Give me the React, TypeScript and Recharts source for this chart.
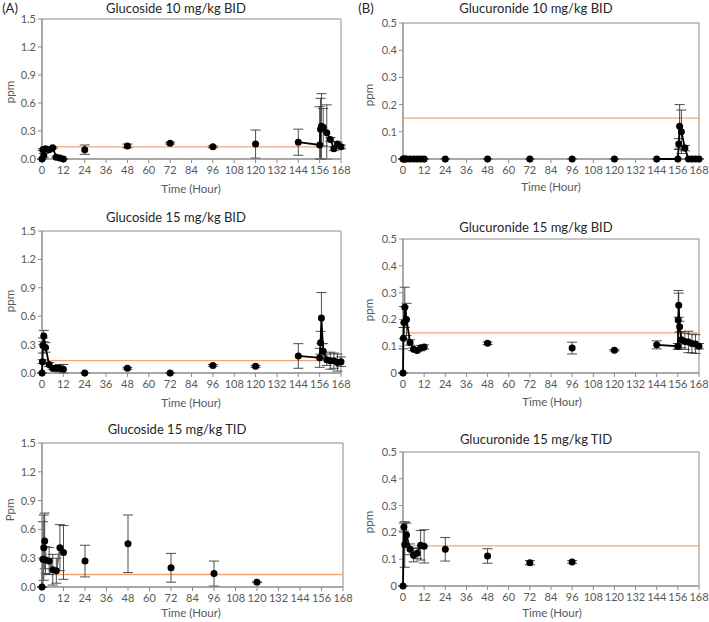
import {
  ScatterChart,
  Scatter,
  XAxis,
  YAxis,
  ErrorBar,
  ReferenceLine,
  ReferenceArea,
} from "recharts";

// shared axes
const hourTicks = [0, 12, 24, 36, 48, 60, 72, 84, 96, 108, 120, 132, 144, 156, 168];
const glucosideTicks = [0, 0.3, 0.6, 0.9, 1.2, 1.5];
const glucuronideTicks = [0, 0.1, 0.2, 0.3, 0.4, 0.5];
const glucosideLimit = 0.13;
const glucuronideLimit = 0.15;

// Glucoside 10 mg/kg BID
const a1Time = [0, 0.5, 1, 2, 4, 6, 8, 10, 12, 24, 48, 72, 96, 120, 144, 156, 156.5, 157, 158, 160, 162, 164, 166, 168];
const a1Ppm = [0, 0.1, 0.04, 0.11, 0.1, 0.12, 0.02, 0.01, 0, 0.1, 0.14, 0.17, 0.13, 0.16, 0.18, 0.15, 0.32, 0.35, 0.34, 0.28, 0.21, 0.11, 0.16, 0.13];
const a1Err = [0, 0.01, 0.02, 0.02, 0.02, 0.01, 0.01, 0.01, 0, 0.05, 0.02, 0.01, 0.01, 0.15, 0.14, 0.41, 0.33, 0.35, 0.2, 0.3, 0.02, 0.02, 0.02, 0.02];
const a1Joined = [1, 1, 1, 1, 1, 1, 1, 1, 1, 0, 0, 0, 0, 0, 1, 1, 1, 1, 1, 1, 1, 1, 1, 1];

// Glucuronide 10 mg/kg BID
const b1Time = [0, 0.5, 1, 2, 4, 6, 8, 10, 12, 24, 48, 72, 96, 120, 144, 156, 156.5, 157, 158, 160, 162, 164, 166, 168];
const b1Ppm = [0, 0, 0, 0, 0, 0, 0, 0, 0, 0, 0, 0, 0, 0, 0, 0, 0.055, 0.12, 0.1, 0.04, 0, 0, 0, 0];
const b1Err = [0, 0, 0, 0, 0, 0, 0, 0, 0, 0, 0, 0, 0, 0, 0, 0, 0.02, 0.08, 0.08, 0.01, 0, 0, 0, 0];
const b1Joined = [1, 1, 1, 1, 1, 1, 1, 1, 1, 0, 0, 0, 0, 0, 1, 1, 1, 1, 1, 1, 1, 1, 1, 1];

// Glucoside 15 mg/kg BID
const a2Time = [0, 0.25, 0.5, 1, 2, 4, 6, 8, 10, 12, 24, 48, 72, 96, 120, 144, 156, 156.5, 157, 158, 160, 162, 164, 166, 168];
const a2Ppm = [0, 0.12, 0.29, 0.39, 0.27, 0.09, 0.05, 0.05, 0.05, 0.04, 0, 0.05, 0, 0.08, 0.07, 0.18, 0.16, 0.32, 0.58, 0.23, 0.14, 0.13, 0.13, 0.11, 0.12];
const a2Err = [0, 0.02, 0.08, 0.06, 0.05, 0.02, 0.01, 0.03, 0.04, 0.05, 0, 0.01, 0, 0.01, 0.01, 0.13, 0.1, 0.12, 0.27, 0.08, 0.06, 0.09, 0.08, 0.09, 0.05];
const a2Joined = [1, 1, 1, 1, 1, 1, 1, 1, 1, 1, 0, 0, 0, 0, 0, 1, 1, 1, 1, 1, 1, 1, 1, 1, 1];

// Glucuronide 15 mg/kg BID
const b2Time = [0, 0.25, 0.5, 1, 2, 4, 6, 8, 10, 12, 48, 96, 120, 144, 156, 156.25, 156.5, 157, 158, 160, 162, 164, 166, 168];
const b2Ppm = [0, 0.13, 0.188, 0.245, 0.2, 0.114, 0.089, 0.084, 0.093, 0.097, 0.111, 0.093, 0.085, 0.105, 0.1, 0.198, 0.253, 0.173, 0.124, 0.118, 0.116, 0.11, 0.108, 0.1];
const b2Err = [0, 0.04, 0.06, 0.075, 0.06, 0.01, 0.005, 0.005, 0.01, 0.008, 0.005, 0.022, 0.003, 0.015, 0.01, 0.11, 0.045, 0.02, 0.03, 0.03, 0.04, 0.035, 0.035, 0.01];
const b2Joined = [1, 1, 1, 1, 1, 1, 1, 1, 1, 1, 0, 0, 0, 1, 1, 1, 1, 1, 1, 1, 1, 1, 1, 1];

// Glucoside 15 mg/kg TID
const a3Time = [0, 0.5, 1, 1.5, 2, 4, 6, 8, 10, 12, 24, 48, 72, 96, 120];
const a3Ppm = [0, 0.29, 0.41, 0.48, 0.28, 0.27, 0.18, 0.17, 0.41, 0.36, 0.27, 0.45, 0.2, 0.14, 0.05];
const a3Err = [0, 0.39, 0.34, 0.29, 0.14, 0.14, 0.16, 0.13, 0.24, 0.28, 0.165, 0.3, 0.15, 0.13, 0];
const a3Joined = [1, 1, 1, 1, 1, 1, 1, 1, 1, 1, 0, 0, 0, 0, 0];

// Glucuronide 15 mg/kg TID
const b3Time = [0, 0.5, 1, 2, 4, 6, 8, 10, 12, 24, 48, 72, 96];
const b3Ppm = [0, 0.22, 0.155, 0.19, 0.137, 0.115, 0.122, 0.152, 0.148, 0.137, 0.112, 0.087, 0.09];
const b3Err = [0, 0.015, 0.085, 0.045, 0.02, 0.025, 0.02, 0.055, 0.062, 0.044, 0.027, 0.008, 0.005];
const b3Joined = [1, 1, 1, 1, 1, 1, 1, 1, 1, 0, 0, 0, 0];

type Row = { t: number; v: number; err: [number, number] };

function buildRows(time: number[], ppm: number[], err: number[]): Row[] {
  // lower whisker stops at the axis
  return time.map((t, i) => ({ t, v: ppm[i], err: [Math.min(err[i], ppm[i]), err[i]] }));
}

function splitRuns(rows: Row[], joined: number[]): Row[][] {
  const runs: Row[][] = [];
  let cur: Row[] = [];
  rows.forEach((r, i) => {
    if (joined[i]) {
      cur.push(r);
    } else if (cur.length) {
      runs.push(cur);
      cur = [];
    }
  });
  if (cur.length) runs.push(cur);
  return runs;
}

const Dot = (p: any) => <circle cx={p.cx} cy={p.cy} r={3.5} fill="#000" />;
const NoDot = () => <g />;

const AXIS = "#8c8c8c";
const TICK = "#595959";

interface PanelProps {
  col: number;
  plot: [number, number, number, number]; // left, right, top, bottom
  title: string;
  titleAt: [number, number];
  yLabel: string;
  yLabelAt: [number, number];
  xLabelAt: [number, number];
  yMax: number;
  yTicks: number[];
  decimals: number;
  limit: number;
  time: number[];
  ppm: number[];
  err: number[];
  joined: number[];
  lineColor?: string;
}

const centered: React.CSSProperties = {
  position: "absolute",
  transform: "translate(-50%, -50%)",
  whiteSpace: "nowrap",
  lineHeight: 1,
  fontWeight: 400,
};

function Panel(p: PanelProps) {
  const rows = buildRows(p.time, p.ppm, p.err);
  const runs = splitRuns(rows, p.joined);
  const [pl, pr, pt, pb] = p.plot;
  const colW = p.col === 0 ? 354 : 355;
  const chartTop = pt - 10;
  const xAxisH = 30;
  const h = pb - chartTop + xAxisH;
  return (
    <>
      <div style={{ position: "absolute", left: p.col, top: chartTop }}>
        <ScatterChart
          width={colW}
          height={h}
          margin={{ top: 10, right: p.col + colW - pr, bottom: 0, left: 0 }}
        >
          <XAxis
            type="number"
            dataKey="t"
            domain={[0, 168]}
            ticks={hourTicks}
            interval={0}
            height={xAxisH}
            tickSize={4}
            tickMargin={3}
            stroke={AXIS}
            tick={{ fill: TICK, fontSize: 11 }}
          />
          <YAxis
            type="number"
            dataKey="v"
            domain={[0, p.yMax]}
            ticks={p.yTicks}
            interval={0}
            width={pl - p.col}
            tickSize={4}
            tickMargin={2}
            stroke={AXIS}
            tick={{ fill: TICK, fontSize: 11 }}
            tickFormatter={(v: number) => (p.decimals === 0 ? String(v) : v.toFixed(p.decimals))}
          />
          <ReferenceArea x1={0} x2={168} y1={0} y2={p.yMax} fill="none" stroke={AXIS} strokeWidth={1} />
          <ReferenceLine y={p.limit} stroke="#f4a672" strokeWidth={1.3} />
          {runs.map((run, i) => (
            <Scatter
              key={i}
              data={run}
              line={{ stroke: p.lineColor || "#000", strokeWidth: 1.8 }}
              shape={NoDot}
              isAnimationActive={false}
            />
          ))}
          <Scatter data={rows} shape={Dot} isAnimationActive={false}>
            <ErrorBar dataKey="err" direction="y" width={5} stroke="#3a3a3a" strokeWidth={0.9} />
          </Scatter>
        </ScatterChart>
      </div>
      <div style={{ ...centered, left: p.titleAt[0], top: p.titleAt[1], fontSize: 13, color: "#262626" }}>
        {p.title}
      </div>
      <div style={{ ...centered, left: p.xLabelAt[0], top: p.xLabelAt[1], fontSize: 11.5, color: TICK }}>
        Time (Hour)
      </div>
      <div
        style={{
          ...centered,
          left: p.yLabelAt[0],
          top: p.yLabelAt[1],
          fontSize: 11.5,
          color: TICK,
          transform: "translate(-50%, -50%) rotate(-90deg)",
        }}
      >
        {p.yLabel}
      </div>
    </>
  );
}

export default function App() {
  return (
    <div
      style={{
        position: "absolute",
        left: 0,
        top: 0,
        width: 709,
        height: 622,
        background: "#fff",
        fontFamily: "Lato, 'Open Sans', sans-serif",
        overflow: "hidden",
      }}
    >
      <div style={{ ...centered, left: 10, top: 8, fontSize: 13, color: "#262626" }}>(A)</div>
      <div style={{ ...centered, left: 366, top: 8, fontSize: 13, color: "#262626" }}>(B)</div>

      <Panel
        col={0}
        plot={[42, 341, 19, 159]}
        title="Glucoside 10 mg/kg BID"
        titleAt={[176, 8]}
        yLabel="ppm"
        yLabelAt={[10, 92]}
        xLabelAt={[191, 189]}
        yMax={1.5}
        yTicks={glucosideTicks}
        decimals={1}
        limit={glucosideLimit}
        time={a1Time}
        ppm={a1Ppm}
        err={a1Err}
        joined={a1Joined}
      />
      <Panel
        col={354}
        plot={[403, 699, 23, 159]}
        title="Glucuronide 10 mg/kg BID"
        titleAt={[536, 8]}
        yLabel="ppm"
        yLabelAt={[369, 95]}
        xLabelAt={[551, 187]}
        yMax={0.5}
        yTicks={glucuronideTicks}
        decimals={0}
        limit={glucuronideLimit}
        time={b1Time}
        ppm={b1Ppm}
        err={b1Err}
        joined={b1Joined}
      />
      <Panel
        col={0}
        plot={[42, 341, 231, 373]}
        title="Glucoside 15 mg/kg BID"
        titleAt={[176, 217]}
        yLabel="ppm"
        yLabelAt={[10, 301]}
        xLabelAt={[191, 403]}
        yMax={1.5}
        yTicks={glucosideTicks}
        decimals={1}
        limit={glucosideLimit}
        time={a2Time}
        ppm={a2Ppm}
        err={a2Err}
        joined={a2Joined}
      />
      <Panel
        col={354}
        plot={[403, 699, 239, 373]}
        title="Glucuronide 15 mg/kg BID"
        titleAt={[536, 227]}
        yLabel="ppm"
        yLabelAt={[369, 310]}
        xLabelAt={[552, 402]}
        yMax={0.5}
        yTicks={glucuronideTicks}
        decimals={0}
        limit={glucuronideLimit}
        time={b2Time}
        ppm={b2Ppm}
        err={b2Err}
        joined={b2Joined}
      />
      <Panel
        col={0}
        plot={[42, 343, 443, 587]}
        title="Glucoside 15 mg/kg TID"
        titleAt={[177, 429]}
        yLabel="Ppm"
        yLabelAt={[10, 510]}
        xLabelAt={[191, 613]}
        yMax={1.5}
        yTicks={glucosideTicks}
        decimals={1}
        limit={glucosideLimit}
        time={a3Time}
        ppm={a3Ppm}
        err={a3Err}
        joined={a3Joined}
        lineColor="#666"
      />
      <Panel
        col={354}
        plot={[403, 699, 452, 586]}
        title="Glucuronide 15 mg/kg TID"
        titleAt={[536, 439]}
        yLabel="ppm"
        yLabelAt={[369, 522]}
        xLabelAt={[552, 613]}
        yMax={0.5}
        yTicks={glucuronideTicks}
        decimals={0}
        limit={glucuronideLimit}
        time={b3Time}
        ppm={b3Ppm}
        err={b3Err}
        joined={b3Joined}
      />
    </div>
  );
}
